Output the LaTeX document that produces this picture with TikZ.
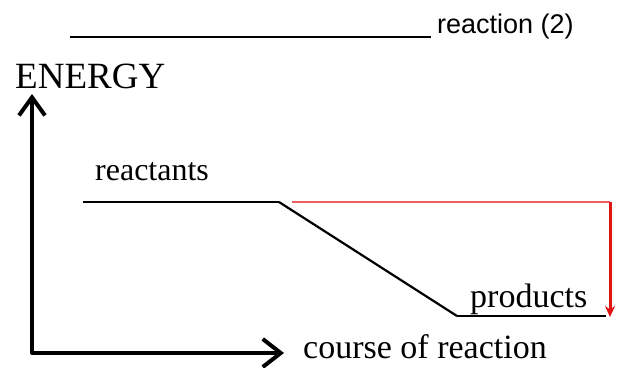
\documentclass[tikz,border=0pt]{standalone}
\usepackage{fontspec}
\setmainfont{Liberation Serif}
\newfontfamily\labsans{Liberation Sans}
\usetikzlibrary{arrows.meta}
\definecolor{lightred}{RGB}{240,95,95}
\definecolor{strongred}{RGB}{225,20,20}
\begin{document}
\begin{tikzpicture}[x=1pt,y=-1pt,
  lbl/.style={inner sep=0pt,anchor=base west},
  axisline/.style={line width=4pt,line cap=round,line join=round},
  level/.style={line width=2.6pt},
  redline/.style={draw=lightred,line width=2pt},
  redarrow/.style={draw=strongred,fill=strongred,line width=3pt,-{Stealth[length=11pt,width=10pt]}}]
\useasboundingbox (0,0) rectangle (617,367);
% title
\coordinate (bl1) at (70,37);
\coordinate (bl2) at (431,37);
\draw[line width=1.8pt] (bl1) -- (bl2);
\node[lbl] (title) at (437,33) {\labsans\fontsize{27}{27}\selectfont reaction (2)};
% axes
\coordinate (ytip) at (32,94);
\coordinate (origin) at (32,353);
\coordinate (xtip) at (284,353);
\draw[axisline,{Straight Barb[length=18pt,width=26pt,line width=4pt]}-{Straight Barb[length=18pt,width=28pt,line width=4pt]}] (ytip) -- (origin) -- (xtip);
\node[lbl] (energy) at (15,88.5) {\fontsize{37}{37}\selectfont ENERGY};
\node[lbl] (course) at (303,358) {\fontsize{34}{34}\selectfont course of reaction};
% levels
\coordinate (r1) at (83,202);
\coordinate (r2) at (279,202);
\coordinate (p1) at (457,316);
\coordinate (p2) at (606,316);
\draw[level] (r1) -- (r2);
\draw[line width=2.2pt] (r2) -- (p1);
\draw[level] (p1) -- (p2);
\node[lbl] (reactants) at (95,180) {\fontsize{32}{32}\selectfont reactants};
\node[lbl] (products) at (470,307) {\fontsize{34}{34}\selectfont products};
% red
\coordinate (q1) at (292,202);
\coordinate (q2) at (610,202);
\coordinate (q3) at (610,317);
\draw[redline] (q1) -- (q2);
\draw[redarrow] (q2) -- (q3);
\end{tikzpicture}
\end{document}
